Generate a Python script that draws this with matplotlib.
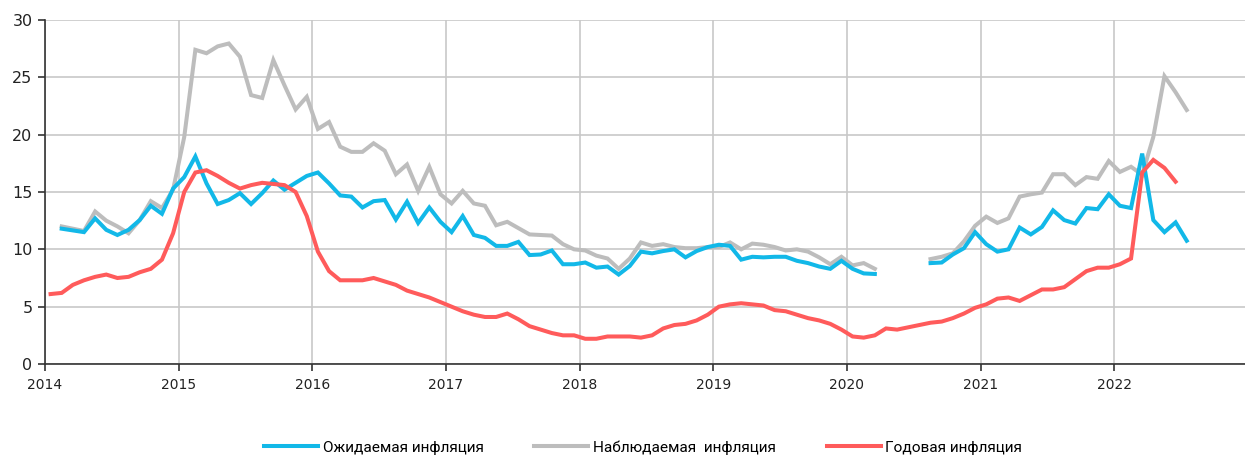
import numpy as np
import matplotlib
matplotlib.use("Agg")
import matplotlib.pyplot as plt

# Monthly series, January 2014 onwards (percent)
nan = np.nan

annual_inflation = [
    6.1, 6.2, 6.9, 7.3, 7.6, 7.8, 7.5, 7.6, 8.0, 8.3, 9.1, 11.4,
    15.0, 16.7, 16.9, 16.4, 15.8, 15.3, 15.6, 15.8, 15.7, 15.6, 15.0, 12.9,
    9.8, 8.1, 7.3, 7.3, 7.3, 7.5, 7.2, 6.9, 6.4, 6.1, 5.8, 5.4,
    5.0, 4.6, 4.3, 4.1, 4.1, 4.4, 3.9, 3.3, 3.0, 2.7, 2.5, 2.5,
    2.2, 2.2, 2.4, 2.4, 2.4, 2.3, 2.5, 3.1, 3.4, 3.5, 3.8, 4.3,
    5.0, 5.2, 5.3, 5.2, 5.1, 4.7, 4.6, 4.3, 4.0, 3.8, 3.5, 3.0,
    2.4, 2.3, 2.5, 3.1, 3.0, 3.2, 3.4, 3.6, 3.7, 4.0, 4.4, 4.9,
    5.2, 5.7, 5.8, 5.5, 6.0, 6.5, 6.5, 6.7, 7.4, 8.1, 8.4, 8.4,
    8.7, 9.2, 16.7, 17.8, 17.1, 15.9,
]

expected_inflation = [
    nan, 11.8, 11.65, 11.5, 12.7, 11.7, 11.25, 11.7, 12.55, 13.8, 13.1, 15.3,
    16.3, 18.1, 15.75, 13.95, 14.3, 14.9, 13.95, 14.9, 16.0, 15.2, 15.8, 16.4,
    16.7, 15.75, 14.7, 14.6, 13.65, 14.2, 14.3, 12.6, 14.15, 12.3, 13.65, 12.4,
    11.5, 12.9, 11.25, 11.0, 10.3, 10.3, 10.65, 9.5, 9.55, 9.9, 8.7, 8.7,
    8.85, 8.4, 8.5, 7.8, 8.55, 9.8, 9.65, 9.85, 10.0, 9.3, 9.85, 10.2,
    10.4, 10.3, 9.1, 9.35, 9.3, 9.35, 9.35, 9.0, 8.8, 8.5, 8.3, 9.0,
    8.3, 7.9, 7.85, nan, nan, nan, nan, 8.8, 8.85, 9.55, 10.1, 11.5,
    10.45, 9.8, 10.0, 11.9, 11.3, 11.95, 13.4, 12.55, 12.25, 13.6, 13.5, 14.8,
    13.8, 13.6, 18.35, 12.55, 11.5, 12.35, 10.75,
]

observed_inflation = [
    nan, 12.0, 11.8, 11.6, 13.3, 12.5, 12.0, 11.4, 12.55, 14.2, 13.6, 15.2,
    19.8, 27.4, 27.1, 27.7, 27.95, 26.8, 23.45, 23.2, 26.5, 24.3, 22.2, 23.3,
    20.5, 21.1, 18.95, 18.5, 18.5, 19.25, 18.6, 16.55, 17.4, 15.1, 17.2, 14.8,
    14.0, 15.1, 14.0, 13.8, 12.1, 12.4, 11.85, 11.3, 11.25, 11.2, 10.45, 10.0,
    9.9, 9.45, 9.2, 8.3, 9.2, 10.6, 10.3, 10.45, 10.2, 10.1, 10.1, 10.2,
    10.2, 10.6, 10.0, 10.5, 10.4, 10.2, 9.9, 10.0, 9.8, 9.3, 8.7, 9.35,
    8.6, 8.8, 8.3, nan, nan, nan, nan, 9.15, 9.35, 9.65, 10.7, 12.05,
    12.85, 12.3, 12.7, 14.6, 14.8, 14.95, 16.55, 16.55, 15.6, 16.3, 16.15, 17.7,
    16.75, 17.2, 16.5, 19.8, 25.1, 23.7, 22.15,
]

year_ticks = list(range(2014, 2023))
y_ticks = [0, 5, 10, 15, 20, 25, 30]

labels = ["Ожидаемая инфляция", "Наблюдаемая  инфляция", "Годовая инфляция"]
colors = ["#12B8E8", "#BDBDBD", "#FF5B5B"]


def months(n):
    # mid-month positions in fractional years
    return 2014 + (np.arange(n) + 0.5) / 12.0


fig = plt.figure(figsize=(12.45, 4.55), dpi=100)
ax = fig.add_axes([45 / 1245, 1 - 364 / 455, (1248 - 45) / 1245, (364 - 20) / 455])

lw = 2.9
l1, = ax.plot(months(len(expected_inflation)), expected_inflation, color=colors[0], lw=lw,
              solid_joinstyle="miter", zorder=3)
l2, = ax.plot(months(len(observed_inflation)), observed_inflation, color=colors[1], lw=lw,
              solid_joinstyle="miter", zorder=2)
l3, = ax.plot(months(len(annual_inflation)), annual_inflation, color=colors[2], lw=lw,
              solid_joinstyle="miter", zorder=4)

ax.set_xlim(2014, 2023)
ax.set_ylim(0, 30)
ax.set_xticks(year_ticks)
ax.set_xticklabels([str(y) for y in year_ticks])
ax.set_yticks(y_ticks)

ax.grid(True, color="#C8C8C8", lw=1.2)
ax.set_axisbelow(True)
for s in ["top", "right"]:
    ax.spines[s].set_visible(False)
for s in ["left", "bottom"]:
    ax.spines[s].set_color("#333333")
    ax.spines[s].set_linewidth(1.2)
    ax.spines[s].set_zorder(5)

ax.tick_params(axis="y", direction="out", length=5, width=1.2, color="#333333",
               labelsize=11.5, pad=4, labelcolor="#222222")
ax.tick_params(axis="x", direction="out", length=5, width=1.2, color="#333333",
               labelsize=10, pad=5, labelcolor="#222222")

fig.legend([l1, l2, l3], labels, loc="center", bbox_to_anchor=(643 / 1245, 0.017),
           ncol=3, frameon=False, handlelength=3.5, handletextpad=0.3,
           columnspacing=3.3, prop={"family": ["Roboto", "DejaVu Sans"], "size": 11.1})

fig.savefig("out.png", dpi=100)
